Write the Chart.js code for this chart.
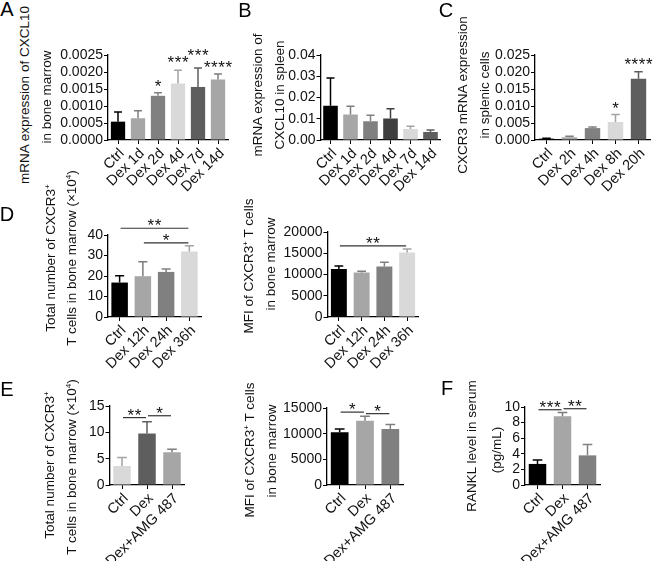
<!DOCTYPE html>
<html><head><meta charset="utf-8">
<script src="https://cdn.jsdelivr.net/npm/chart.js@4.4.0/dist/chart.umd.min.js"></script>
<style>
html,body{margin:0;padding:0;background:#fff;width:654px;height:561px;overflow:hidden;position:relative;font-family:"Liberation Sans",Arial,sans-serif;}
canvas{position:absolute;}
.yt{position:absolute;white-space:nowrap;transform:translate(-50%,-50%) rotate(-90deg);font-size:13.5px;color:#111;line-height:1;}
.yt sup{font-size:0.6em;line-height:0;vertical-align:0.6em;}
.lt{position:absolute;font-size:20px;transform:translate(-50%,-50%);line-height:1;color:#000;}
</style></head><body>
<script>
const FONT = '"Liberation Sans", Arial, sans-serif';

// ---------- Panel A ----------
const aLabels = ['Ctrl','Dex 1d','Dex 2d','Dex 4d','Dex 7d','Dex 14d'];
const aMeans = [0.00054,0.00064,0.00130,0.00166,0.00156,0.00178];
const aErrTops = [0.00082,0.00086,0.00139,0.00205,0.00212,0.00194];
const aStars = ['','','*','***','***','****'];
const aStarLevels = [null,null,0.00169,0.00240,0.00262,0.00227];
const aTicks = [0,0.0005,0.0010,0.0015,0.0020,0.0025];

// ---------- Panel B ----------
const bLabels = ['Ctrl','Dex 1d','Dex 2d','Dex 4d','Dex 7d','Dex 14d'];
const bMeans = [0.0161,0.0120,0.0088,0.0101,0.0052,0.0038];
const bErrTops = [0.0292,0.0159,0.0117,0.0147,0.0065,0.0047];
const bTicks = [0,0.01,0.02,0.03,0.04];

// ---------- Panel C ----------
const cLabels = ['Ctrl','Dex 2h','Dex 4h','Dex 8h','Dex 20h'];
const cMeans = [0.0004,0.0008,0.0035,0.0053,0.0180];
const cErrTops = [0.0005,0.0011,0.0038,0.0075,0.0201];
const cStars = ['','','','*','****'];
const cStarLevels = [null,null,null,0.0106,0.0233];
const cTicks = [0,0.005,0.010,0.015,0.020,0.025];

// ---------- Panel D (left: count, right: MFI) ----------
const dLabels = ['Ctrl','Dex 12h','Dex 24h','Dex 36h'];
const d1Means = [16.8,19.9,22.0,31.9];
const d1ErrTops = [20.1,27.0,23.4,34.7];
const d1Ticks = [0,10,20,30,40];
const d1SigFrom = [0,1], d1SigTo = [3,3], d1SigLevels = [43.3,36.2], d1SigLabels = ['**','*'];
const d2Means = [11300,10500,11900,15200];
const d2ErrTops = [12000,10750,12900,16000];
const d2Ticks = [0,5000,10000,15000,20000];
const d2SigFrom = [0], d2SigTo = [3], d2SigLevels = [16750], d2SigLabels = ['**'];

// ---------- Panel E ----------
const eLabels = ['Ctrl','Dex','Dex+AMG 487'];
const e1Means = [3.6,9.8,6.2];
const e1ErrTops = [5.2,12.0,6.8];
const e1Ticks = [0,5,10,15];
const e1SigFrom = [0,1], e1SigTo = [1,2], e1SigLevels = [12.8,13.15], e1SigLabels = ['**','*'];
const e2Means = [10300,12500,10900];
const e2ErrTops = [10900,13400,11800];
const e2Ticks = [0,5000,10000,15000];
const e2SigFrom = [0,1], e2SigTo = [1,2], e2SigLevels = [14200,13900], e2SigLabels = ['*','*'];

// ---------- Panel F ----------
const fLabels = ['Ctrl','Dex','Dex+AMG 487'];
const fMeans = [2.7,8.8,3.8];
const fErrTops = [3.2,9.3,5.2];
const fTicks = [0,2,4,6,8,10];
const fSigFrom = [0,1], fSigTo = [1,2], fSigLevels = [9.65,9.78], fSigLabels = ['***','**'];

// ---------- styling ----------
const K='#000000', G1='#a6a6a6', G2='#808080', LT='#d9d9d9', DK='#5e5e5e', DD='#3f3f3f';

function shade(hex){
  const n=parseInt(hex.slice(1),16);
  const r=(n>>16)&255,g=(n>>8)&255,b=n&255;
  const k=((r+g+b)/3)>150?0.75:1;
  return 'rgb('+Math.round(r*k)+','+Math.round(g*k)+','+Math.round(b*k)+')';
}

function drawStars(ctx, label, cx, cy){
  const fs=17, sp=7.2, n=label.length;
  ctx.font = fs+'px '+FONT;
  ctx.fillStyle='#111';
  ctx.textAlign='center';
  ctx.textBaseline='alphabetic';
  for(let k=0;k<n;k++){
    const x = cx + (k-(n-1)/2)*sp;
    ctx.fillText('*', x, cy + 0.57*fs);
  }
}

const errorBarPlugin = {
  id:'errbars',
  afterDatasetsDraw(chart, args, o){
    const ctx=chart.ctx, y=chart.scales.y;
    const meta=chart.getDatasetMeta(0);
    ctx.save();
    meta.data.forEach((bar,i)=>{
      const top=y.getPixelForValue(o.errs[i]);
      const capW=bar.width*0.55;
      ctx.strokeStyle=shade(o.colors[i]);
      ctx.lineWidth=1.5;
      ctx.beginPath();
      ctx.moveTo(bar.x, bar.y); ctx.lineTo(bar.x, top);
      ctx.moveTo(bar.x-capW/2, top); ctx.lineTo(bar.x+capW/2, top);
      ctx.stroke();
    });
    if(o.stars){
      o.stars.forEach((s,i)=>{
        if(!s) return;
        drawStars(ctx, s, meta.data[i].x, y.getPixelForValue(o.starLevels[i]));
      });
    }
    if(o.sigFrom){
      o.sigFrom.forEach((a,k)=>{
        const x1=meta.data[a].x+1, x2=meta.data[o.sigTo[k]].x-1;
        const ly=y.getPixelForValue(o.sigLevels[k]);
        ctx.strokeStyle='#333'; ctx.lineWidth=1.2;
        ctx.beginPath(); ctx.moveTo(x1,ly); ctx.lineTo(x2,ly); ctx.stroke();
        drawStars(ctx, o.sigLabels[k], (x1+x2)/2, ly-6.5);
      });
    }
    ctx.restore();
  }
};

function build(p){
  const cl=Math.floor(p.left-62), ct=Math.floor(p.top-34);
  const cw=Math.ceil(p.right+24-cl), ch=Math.ceil(p.bottom+80-ct);
  const cv=document.createElement('canvas');
  cv.width=cw; cv.height=ch;
  cv.style.left=cl+'px'; cv.style.top=ct+'px';
  cv.style.width=cw+'px'; cv.style.height=ch+'px';
  document.body.appendChild(cv);
  const yW=p.left-cl, padT=p.top-ct, padR=cl+cw-p.right, xH=ct+ch-p.bottom;
  const ticks=p.ticks;
  new Chart(cv,{
    type:'bar',
    data:{labels:p.labels,datasets:[{data:p.means,backgroundColor:p.colors,borderWidth:0,barPercentage:p.barPct,categoryPercentage:1}]},
    options:{
      responsive:false, animation:false, devicePixelRatio:1,
      layout:{padding:{left:0,right:padR,top:padT,bottom:0}},
      plugins:{
        legend:{display:false}, tooltip:{enabled:false},
        errbars:{errs:p.errs,colors:p.colors,stars:p.stars,starLevels:p.starLevels,
                 sigFrom:p.sigFrom,sigTo:p.sigTo,sigLevels:p.sigLevels,sigLabels:p.sigLabels}
      },
      scales:{
        x:{
          offset:true,
          grid:{display:true,offset:false,drawOnChartArea:false,drawTicks:true,tickLength:4,color:'#000',lineWidth:1},
          border:{display:true,color:'#000',width:1.3},
          ticks:{autoSkip:false,minRotation:45,maxRotation:45,padding:1,labelOffset:4,color:'#111',font:{family:FONT,size:14.5}},
          afterFit:s=>{s.height=xH;}
        },
        y:{
          min:0,max:ticks[ticks.length-1],
          grid:{display:true,drawOnChartArea:false,drawTicks:true,tickLength:4,color:'#000',lineWidth:1},
          border:{display:true,color:'#000',width:1.3},
          ticks:{autoSkip:false,padding:1,color:'#111',font:{family:FONT,size:14},callback:v=>Number(v).toFixed(p.dec)},
          afterBuildTicks:s=>{s.ticks=ticks.map(v=>({value:v}));},
          afterFit:s=>{s.width=yW;}
        }
      }
    },
    plugins:[errorBarPlugin]
  });
}

build({left:108,right:228,top:55,bottom:140,labels:aLabels,means:aMeans,errs:aErrTops,ticks:aTicks,dec:4,
  colors:[K,G1,G2,LT,DK,G1],barPct:0.715,stars:aStars,starLevels:aStarLevels});
build({left:320.5,right:440.5,top:55,bottom:140,labels:bLabels,means:bMeans,errs:bErrTops,ticks:bTicks,dec:2,
  colors:[K,G1,G2,DD,LT,DK],barPct:0.73});
build({left:535,right:650,top:55,bottom:140,labels:cLabels,means:cMeans,errs:cErrTops,ticks:cTicks,dec:3,
  colors:[K,G1,G2,LT,DK],barPct:0.67,stars:cStars,starLevels:cStarLevels});
build({left:108,right:201,top:235,bottom:317,labels:dLabels,means:d1Means,errs:d1ErrTops,ticks:d1Ticks,dec:0,
  colors:[K,G1,G2,LT],barPct:0.71,sigFrom:d1SigFrom,sigTo:d1SigTo,sigLevels:d1SigLevels,sigLabels:d1SigLabels});
build({left:327.5,right:418.5,top:232,bottom:317,labels:dLabels,means:d2Means,errs:d2ErrTops,ticks:d2Ticks,dec:0,
  colors:[K,G1,G2,LT],barPct:0.7,sigFrom:d2SigFrom,sigTo:d2SigTo,sigLevels:d2SigLevels,sigLabels:d2SigLabels});
build({left:109.5,right:184.5,top:406,bottom:485,labels:eLabels,means:e1Means,errs:e1ErrTops,ticks:e1Ticks,dec:0,
  colors:[LT,DK,G1],barPct:0.7,sigFrom:e1SigFrom,sigTo:e1SigTo,sigLevels:e1SigLevels,sigLabels:e1SigLabels});
build({left:327,right:403,top:408,bottom:485,labels:eLabels,means:e2Means,errs:e2ErrTops,ticks:e2Ticks,dec:0,
  colors:[K,G1,G2],barPct:0.7,sigFrom:e2SigFrom,sigTo:e2SigTo,sigLevels:e2SigLevels,sigLabels:e2SigLabels});
build({left:525,right:600,top:407,bottom:485,labels:fLabels,means:fMeans,errs:fErrTops,ticks:fTicks,dec:0,
  colors:[K,G1,G2],barPct:0.7,sigFrom:fSigFrom,sigTo:fSigTo,sigLevels:fSigLevels,sigLabels:fSigLabels});

// ---------- axis titles and panel letters (HTML text) ----------
const titles = [
  ['mRNA expression of CXCL10',25,95],['in bone marrow',47,97],
  ['mRNA expression of',258,95],['CXCL10 in spleen',280,95],
  ['CXCR3 mRNA expression',463,95],['in splenic cells',485,95],
  ['Total number of CXCR3<sup>+</sup>',51,258],['T cells in bone marrow (×10<sup>4</sup>)',72,258],
  ['MFI of CXCR3<sup>+</sup> T cells',249,266],['in bone marrow',271,264],
  ['Total number of CXCR3<sup>+</sup>',50,465],['T cells in bone marrow (×10<sup>4</sup>)',72,467],
  ['MFI of CXCR3<sup>+</sup> T cells',250,450],['in bone marrow',272,451],
  ['RANKL level in serum',472,446],['(pg/mL)',497,450]
];
titles.forEach(t=>{
  const d=document.createElement('div'); d.className='yt'; d.innerHTML=t[0];
  d.style.left=t[1]+'px'; d.style.top=t[2]+'px'; document.body.appendChild(d);
});
const letters=[['A',7,9],['B',245,10],['C',446,10],['D',7,214],['E',7,389],['F',447,388]];
letters.forEach(t=>{
  const d=document.createElement('div'); d.className='lt'; d.textContent=t[0];
  d.style.left=t[1]+'px'; d.style.top=t[2]+'px'; document.body.appendChild(d);
});
</script>
</body></html>
